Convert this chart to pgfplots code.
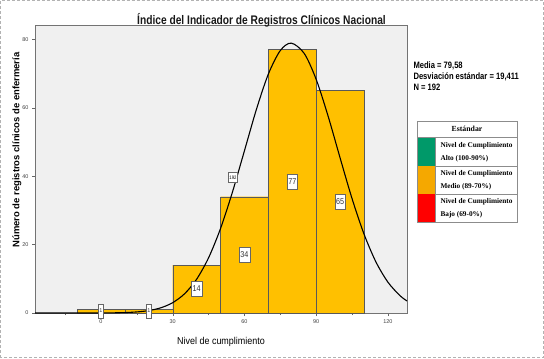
\documentclass[border=0pt]{standalone}
\usepackage{fontspec}
\setmainfont{Liberation Sans}
\newfontfamily\narrow[FakeStretch=0.85]{Liberation Sans}
\newfontfamily\narrowb[FakeStretch=0.82]{Liberation Sans Bold}
\newfontfamily\xnarrow[FakeStretch=0.9]{Liberation Sans}
\newfontfamily\serifb{Liberation Serif Bold}
\usepackage{pgfplots}
\pgfplotsset{compat=1.18}
\definecolor{barfill}{RGB}{255,192,0}
\definecolor{plotbg}{RGB}{240,240,240}
\definecolor{lgreen}{RGB}{0,153,105}
\definecolor{lorange}{RGB}{245,168,0}
\definecolor{lred}{RGB}{255,0,0}
\begin{document}
\begin{tikzpicture}[x=1bp,y=1bp]
\useasboundingbox (0,0) rectangle (544,358);
\fill[white] (0,0) rectangle (544,358);
\draw[black!30, densely dashed] (0.5,0.5) rectangle (543.5,357.5);
\begin{axis}[at={(35bp,45bp)}, anchor=south west, width=372bp, height=288bp, scale only axis,
  xmin=-27.6, xmax=128, ymin=0, ymax=84.2,
  axis background/.style={fill=plotbg},
  xtick={0,30,60,90,120}, minor xtick={-15,15,45,75,105},
  ytick={0,20,40,60,80},
  tick align=outside, tick pos=left,
  major tick length=3bp, minor tick length=2bp,
  tick style={black!60},
  ticklabel style={font=\fontsize{5.5}{6}\selectfont, text=black!75},
  /pgf/number format/assume math mode=true,
  axis line style={black!55},
]
\addplot[ybar, bar width=20, fill=barfill, draw=black!65] coordinates {
  (0,1) (20,1) (40,14) (60,34) (80,77) (100,65)};
\addplot[black, line width=1.1bp, smooth] coordinates {
  (-27.6,0) (-10,0.002) (0,0.018) (5,0.049) (10,0.128) (15,0.312) (20,0.710) (25,1.515)
  (30,3.02) (35,5.65) (40,9.87) (45,16.14) (50,24.70) (55,35.39) (60,47.43)
  (65,59.51) (70,69.85) (75,76.73) (79.58,78.90) (85,75.89) (90,68.31)
  (95,57.55) (100,45.37) (105,33.47) (110,23.11) (115,14.93) (120,9.03)
  (125,5.11) (128,3.52)};
\addplot[draw=none, mark=none, nodes near coords, point meta=explicit symbolic,
  every node near coord/.append style={anchor=center, fill=white, draw=black!60,
    font=\narrow\fontsize{8.5}{9}\selectfont, inner xsep=1.3bp, minimum height=15bp, text=black!80}]
  coordinates {(40,7)[14] (60,17)[34] (80,38.5)[77] (100,32.5)[65]};
\addplot[draw=none, mark=none, nodes near coords, point meta=explicit symbolic,
  every node near coord/.append style={anchor=center, fill=white, draw=black!60,
    font=\fontsize{5.5}{6}\selectfont, inner xsep=1bp, minimum height=14bp, text=black!80}]
  coordinates {(0,0.6)[1] (20,0.6)[1]};
\node[fill=white, draw=black!60, font=\narrow\fontsize{5}{5}\selectfont, inner xsep=1bp, minimum height=9bp]
  at (axis cs:55.2,39.6) {192};
\end{axis}
% title
\node[anchor=base, font=\narrowb\fontsize{12.5}{14}\selectfont, text=black!90] at (261.5,334) {Índice del Indicador de Registros Clínicos Nacional};
% x label
\node[anchor=base, font=\xnarrow\fontsize{10}{11}\selectfont] at (221,14) {Nivel de cumplimiento};
% y label
\node[rotate=90, font=\fontsize{9.5}{10}\selectfont\bfseries] at (17,208) {Número de registros clínicos de enfermería};
% stats
\node[anchor=base west, font=\narrowb\fontsize{9.3}{10}\selectfont] at (410,289.5) {Media = 79,58};
\node[anchor=base west, font=\narrowb\fontsize{9.3}{10}\selectfont] at (410,278.5) {Desviación estándar = 19,411};
\node[anchor=base west, font=\narrowb\fontsize{9.3}{10}\selectfont] at (410,267.5) {N = 192};
% legend
\fill[white] (417,136) rectangle (517,237);
\fill[lgreen] (417,192) rectangle (435,220);
\fill[lorange] (417,164) rectangle (435,192);
\fill[lred] (417,136) rectangle (435,164);
\draw[black!45] (417,136) rectangle (517,237);
\draw[black!45] (417,221) -- (517,221);
\draw[black!45] (435,192) -- (517,192);
\draw[black!45] (435,164) -- (517,164);
\draw[black!45] (435,136) -- (435,221);
\node[font=\serifb\fontsize{7.8}{8}\selectfont] at (467,229) {Estándar};
\node[anchor=west, align=left, font=\serifb\fontsize{7.3}{13}\selectfont] at (437,206) {Nivel de Cumplimiento\\ Alto (100-90\%)};
\node[anchor=west, align=left, font=\serifb\fontsize{7.3}{13}\selectfont] at (437,178) {Nivel de Cumplimiento\\ Medio (89-70\%)};
\node[anchor=west, align=left, font=\serifb\fontsize{7.3}{13}\selectfont] at (437,150) {Nivel de Cumplimiento\\ Bajo (69-0\%)};
\end{tikzpicture}
\end{document}
